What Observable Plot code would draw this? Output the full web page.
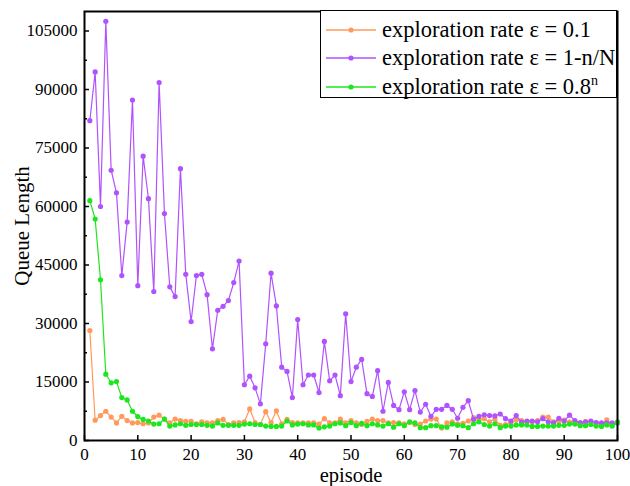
<!DOCTYPE html>
<html><head><meta charset="utf-8">
<script src="https://cdn.jsdelivr.net/npm/d3@7"></script>
<script src="https://cdn.jsdelivr.net/npm/@observablehq/plot@0.6"></script>
<style>
body{margin:0;background:#fff;}
#wrap{position:relative;width:630px;height:486px;}
#legend{position:absolute;left:320px;top:10px;width:295px;height:86px;border:1.6px solid #000;background:#fff;font-family:"Liberation Serif","Times New Roman",serif;font-size:22.5px;}
.row{position:absolute;left:0;height:28px;display:flex;align-items:center;white-space:nowrap;}
.row svg{margin-left:5px;margin-right:6px;}
sup{font-size:14px;vertical-align:9px;line-height:0;}
</style></head>
<body><div id="wrap"><div id="legend"></div></div>
<script>
const episodes = d3.range(1, 101);
const seriesNames = ["exploration rate ε = 0.1", "exploration rate ε = 1-n/N", "exploration rate ε = 0.8n"];
const seriesColors = ["#FF9A5C", "#B152FF", "#1EE61E"];
const rate01 = [28200,5200,6400,7500,6000,4500,6200,5100,4500,4600,4300,4500,6000,6500,5500,4500,5500,5100,4900,4900,4300,4800,4500,4500,5100,5400,4100,4500,4600,4800,8100,4600,4100,7400,4600,7600,4300,5400,4600,4500,4500,4500,4500,4200,5600,4500,4500,5500,4500,5100,4500,4100,4900,5500,5100,5100,4500,4600,4500,4300,4600,4100,4200,5000,5500,5500,3200,4500,4800,4300,4400,5000,5900,5500,5600,4800,5500,3900,4100,4500,5300,5100,4800,4800,5100,6000,6000,4800,4900,5200,4700,4700,4600,4900,4800,4500,4100,5300,4100,4800];
const rateLinear = [82000,94500,60000,107500,69300,63500,42300,56000,87300,39700,72900,62000,38200,91800,58200,39400,36900,69700,42600,30500,42300,42600,37400,23500,33400,34400,35900,40500,46000,14300,16500,13500,9400,24800,42900,34500,18800,17700,11000,31000,14300,16800,16800,12300,25400,15300,16800,11500,32500,15100,18800,20800,12000,11300,17900,7500,14900,9000,7900,12500,7900,12800,7300,9300,6200,8000,8000,9000,8000,5700,8500,10200,5400,6200,6600,6400,6300,6800,5600,5000,6400,4700,5000,5000,4800,5600,4800,4500,5700,5000,6500,5100,4500,4700,5000,4600,4500,4500,4500,4500];
const ratePow = [61500,56800,41200,17000,14800,15100,11000,10400,7500,6100,5400,5000,4200,4300,5500,3700,4000,4300,3900,4100,4100,4100,3900,3700,4500,3900,3900,3900,3900,4200,4300,4100,4100,3700,3600,3600,3700,5000,4000,4200,4300,4000,4000,3200,3500,3700,4300,4500,3800,4600,3800,4400,3800,4300,4000,3700,4300,3400,4300,3800,4800,4500,3300,3300,3800,3800,3500,3400,4200,3900,3800,3300,4300,4800,4100,3700,4300,3300,3700,3700,4000,4000,4000,3600,3600,3700,3700,3700,3900,3900,4200,4200,3800,3800,4100,3700,3600,4000,3700,4700];
const xTicks = d3.range(0, 101, 10);
const yTicks = d3.range(0, 105001, 15000);
const yMinorTicks = d3.range(7500, 105001, 15000);

const allSeries = [rate01, rateLinear, ratePow];
const data = [];
allSeries.forEach((vals, s) => vals.forEach((v, i) => data.push({episode: episodes[i], value: v, series: seriesNames[s]})));

const marks = [];
allSeries.forEach((vals, s) => {
  const d = data.filter(r => r.series === seriesNames[s]);
  marks.push(Plot.line(d, {x: "episode", y: "value", stroke: seriesColors[s], strokeWidth: 1.2}));
  marks.push(Plot.dot(d, {x: "episode", y: "value", fill: seriesColors[s], r: 2.6}));
});

const chart = Plot.plot({
  width: 630, height: 486,
  marginLeft: 84, marginRight: 13, marginTop: 11, marginBottom: 46,
  style: {fontFamily: "'Liberation Serif','Times New Roman',serif", fontSize: "17px", color: "#000", background: "#fff"},
  x: {domain: [0, 100]},
  y: {domain: [0, 110000]},
  marks: [
    ...marks,
    Plot.frame({stroke: "#000", strokeWidth: 2}),
    Plot.axisX({ticks: xTicks, tickSize: -5, tickPadding: 12, tickFormat: d3.format("d"), label: null, strokeWidth: 1.5}),
    Plot.axisY({ticks: yTicks, tickSize: -5, tickPadding: 12, tickFormat: d3.format("d"), label: null, strokeWidth: 1.5}),
    Plot.axisY({ticks: yMinorTicks, tickSize: -3, tickFormat: () => "", label: null, strokeWidth: 1.5}),
    Plot.text(["Queue Length"], {frameAnchor: "left", dx: -62, rotate: -90, textAnchor: "middle", lineAnchor: "middle", fontSize: 21}),
    Plot.text(["episode"], {frameAnchor: "bottom", dy: 35, textAnchor: "middle", lineAnchor: "middle", fontSize: 20.5})
  ]
});
document.getElementById("wrap").prepend(chart);

const legend = document.getElementById("legend");
seriesNames.forEach((name, i) => {
  const row = document.createElement("div");
  row.className = "row";
  row.style.top = (4.5 + i * 28.7) + "px";
  const label = i === 2 ? "exploration rate ε = 0.8<sup>n</sup>" : name;
  row.innerHTML = `<svg width="50" height="10"><line x1="0" x2="50" y1="5" y2="5" stroke="${seriesColors[i]}" stroke-width="1.4"/><circle cx="25" cy="5" r="2.6" fill="${seriesColors[i]}"/></svg><span>${label}</span>`;
  legend.appendChild(row);
});
</script></body></html>
